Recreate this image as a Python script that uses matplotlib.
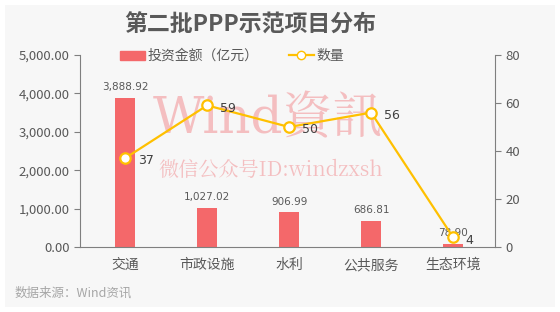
import matplotlib
matplotlib.use("Agg")
import matplotlib.pyplot as plt
from matplotlib.patches import Rectangle
from matplotlib.lines import Line2D
from matplotlib.ticker import FuncFormatter

plt.rcParams['font.family'] = ['Noto Sans CJK SC', 'DejaVu Sans']

categories = ['交通', '市政设施', '水利', '公共服务', '生态环境']
amounts = [3888.92, 1027.02, 906.99, 686.81, 78.90]
counts = [37, 59, 50, 56, 4]
left_ticks = [0, 1000, 2000, 3000, 4000, 5000]
right_ticks = [0, 20, 40, 60, 80]

bar_color = '#F4686A'
line_color = '#FFC000'
text_color = '#595959'

fig = plt.figure(figsize=(5.6, 3.12), dpi=100, facecolor='white')
fig.patches.append(Rectangle((5/560, 5/312), 550/560, 302/312, transform=fig.transFigure,
                             facecolor='#F7F7F7', edgecolor='none', zorder=-10))

# watermark (behind everything)
fig.text(268/560, 1-120/312, 'Wind資訊', fontsize=36, color='#F2999C', alpha=0.6,
         ha='center', va='center', family=['DejaVu Serif', 'Noto Serif CJK SC', 'Noto Sans CJK SC'],
         zorder=-5)
fig.text(271/560, 1-170/312, '微信公众号ID:windzxsh', fontsize=14.5, color='#F2999C', alpha=0.6,
         ha='center', va='center', family=['Noto Serif CJK SC', 'Noto Sans CJK SC', 'DejaVu Serif'],
         zorder=-5)

ax = fig.add_axes([80/560, 1-247/312, 415/560, 192/312])
ax.set_facecolor('none')
x = list(range(len(categories)))
ax.bar(x, amounts, width=0.25, color=bar_color, zorder=2)
ax.set_ylim(0, 5000)
ax.set_xlim(-0.55, 4.51)
ax.set_yticks(left_ticks)
ax.yaxis.set_major_formatter(FuncFormatter(lambda v, p: f'{v:,.2f}'))
ax.set_xticks(x)
ax.set_xticklabels(categories, fontsize=10, color=text_color)
ax.tick_params(axis='x', length=0, pad=8)
ax.tick_params(axis='y', labelsize=9.5, colors='#7F7F7F', length=4, color='#7F7F7F', direction='out')
for lab in ax.get_yticklabels():
    lab.set_color(text_color)
for s in ['top', 'right']:
    ax.spines[s].set_visible(False)
for s in ['left', 'bottom']:
    ax.spines[s].set_color('#7F7F7F')
for xi, v in zip(x, amounts):
    ax.annotate(f'{v:,.2f}', (xi, v), xytext=(0, 4), textcoords='offset points',
                ha='center', va='bottom', fontsize=7.5, color=text_color, family='DejaVu Sans')

ax2 = ax.twinx()
ax2.set_ylim(0, 80)
ax2.set_yticks(right_ticks)
ax2.plot(x, counts, color=line_color, lw=1.6, marker='o', ms=7.5, mfc='white', mec=line_color,
         mew=1.6, zorder=3)
ax2.tick_params(axis='y', labelsize=9.5, colors=text_color, length=4, direction='out')
ax2.tick_params(axis='y', color='#7F7F7F')
for s in ['top', 'left', 'bottom']:
    ax2.spines[s].set_visible(False)
ax2.spines['right'].set_color('#7F7F7F')
for xi, v in zip(x, counts):
    ax2.annotate(f'{v}', (xi, v), xytext=(9, -2), textcoords='offset points',
                 ha='left', va='center', fontsize=9, color='#404040', family='DejaVu Sans')

fig.text(250/560, 1-25/312, '第二批PPP示范项目分布', fontsize=16.5, fontweight='bold',
         color=text_color, ha='center', va='center')

handles = [Rectangle((0, 0), 1, 1, color=bar_color),
           Line2D([], [], color=line_color, lw=1.6, marker='o', ms=6, mfc='white', mec=line_color)]
fig.legend(handles, ['投资金额（亿元）', '数量'], loc='center', bbox_to_anchor=(232/560, 1-56/312),
           ncol=2, frameon=False, fontsize=10, labelcolor=text_color, handlelength=1.8,
           handleheight=0.6, columnspacing=2.2, handletextpad=0.2)

fig.text(15/560, 1-293/312, '数据来源：Wind资讯', fontsize=9, color='#A6A6A6', ha='left', va='center')

fig.savefig('out.png', dpi=100, facecolor='white')
